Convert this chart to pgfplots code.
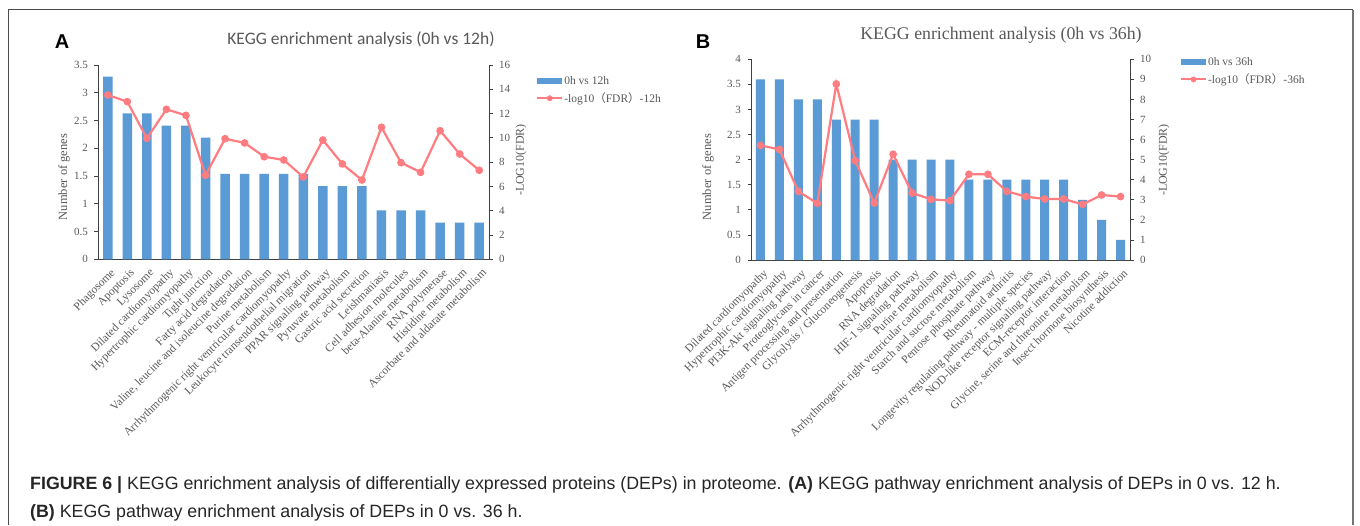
\documentclass[border=0pt]{standalone}
\usepackage{fontspec}
\usepackage{pgfplots}
\pgfplotsset{compat=1.18}
\setmainfont{Liberation Serif}
\setsansfont{Liberation Sans}
\newfontfamily\carlito{Carlito}
\newfontfamily\cjk{Noto Sans CJK SC}
\newfontfamily\capfont{Liberation Sans}
\definecolor{barblue}{HTML}{5B9BD5}
\definecolor{linered}{HTML}{FF7C80}
\definecolor{txtgray}{HTML}{595959}
\definecolor{axgray}{HTML}{404040}

\pgfplotstableread{
x barA lineA barB lineB
0 3.29 13.53 3.6 5.71
1 2.63 12.98 3.6 5.51
2 2.63 9.96 3.2 3.42
3 2.41 12.35 3.2 2.82
4 2.41 11.85 2.8 8.77
5 2.19 6.92 2.8 4.95
6 1.54 9.93 2.8 2.84
7 1.54 9.58 2.0 5.27
8 1.54 8.45 2.0 3.34
9 1.54 8.18 2.0 3.02
10 1.54 6.78 2.0 2.96
11 1.32 9.82 1.6 4.27
12 1.32 7.85 1.6 4.27
13 1.32 6.53 1.6 3.42
14 0.88 10.87 1.6 3.16
15 0.88 7.96 1.6 3.04
16 0.88 7.16 1.6 3.04
17 0.66 10.59 1.2 2.77
18 0.66 8.67 0.8 3.24
19 0.66 7.33 0.4 3.16
}\datatable

\pgfplotsset{
  common/.style={
    scale only axis,
    anchor=south west,
    xmin=-0.5, xmax=19.5,
    axis line style={axgray, line width=0.8pt, -},
    tick style={axgray, line width=0.8pt},
    major tick length=3.5pt,
    tick align=outside,
    ticklabel style={font=\fontsize{11}{13}\selectfont, text=txtgray},
    /pgf/number format/assume math mode=true,
    clip=false,
  },
  leftax/.style={
    common,
    axis x line*=bottom, axis y line*=left,
    xtick={0,...,19},
    x tick style={draw=none},
    yticklabel style={xshift=-3pt},
    xticklabel style={rotate=45, anchor=north east, inner sep=1pt, yshift=-4pt, xshift=-1pt, font=\fontsize{11.5}{13}\selectfont},
    legend cell align=left,
    legend style={draw=none, fill=none, inner sep=0pt, outer sep=0pt, anchor=north west,
      font=\fontsize{11.5}{13}\selectfont, text=txtgray, row sep=5pt,
      nodes={inner sep=1pt}},
  },
  rightax/.style={
    common,
    axis x line=none, axis y line*=right,
    xtick=\empty,
    yticklabel style={xshift=3pt},
  },
  barleg/.style={legend image code/.code={\fill[barblue] (0pt,-3.2pt) rectangle (25pt,3.2pt);}},
  lineleg/.style={legend image code/.code={\draw[linered,line width=2pt] (0pt,0pt) -- (25pt,0pt); \fill[linered] (12.5pt,0pt) circle (2.7pt);}},
}

\begin{document}
\begin{tikzpicture}
\useasboundingbox (0pt,0pt) rectangle (1360pt,525pt);
\fill[white] (0pt,0pt) rectangle (1360pt,525pt);
% frame
\draw[black!70, line width=1pt] (8pt,0pt) -- (8pt,515pt) -- (1353pt,515pt);
\draw[black!55, line width=2pt] (1353pt,515pt) -- (1353pt,0pt);

% ---------------- Panel A ----------------
\begin{axis}[leftax, at={(98pt,265.7pt)}, width=391pt, height=194.3pt,
  ymin=0, ymax=3.5, ytick={0,0.5,...,3.5},
  xticklabels={Phagosome, Apoptosis, Lysosome, Dilated cardiomyopathy, Hypertrophic cardiomyopathy, Tight junction, Fatty acid degradation, {Valine, leucine and isoleucine degradation}, Purine metabolism, Arrhythmogenic right ventricular cardiomyopathy, Leukocyte transendothelial migration, PPAR signaling pathway, Pyruvate metabolism, Gastric acid secretion, Leishmaniasis, Cell adhesion molecules, beta-Alanine metabolism, RNA polymerase, Histidine metabolism, Ascorbate and aldarate metabolism},
  legend style={at={(1.121,0.948)}},
]
\addplot[ybar, bar width=9.5pt, fill=barblue, draw=none, barleg] table[x=x, y=barA] {\datatable};
\addlegendentry{0h vs 12h}
\addlegendimage{lineleg}
\addlegendentry{-log10{\cjk （}FDR{\cjk ）}-12h}
\end{axis}
\begin{axis}[rightax, at={(98pt,265.7pt)}, width=391pt, height=194.3pt,
  ymin=0, ymax=16, ytick={0,2,...,16}]
\addplot[linered, line width=2.2pt, mark=*, mark size=2.7pt, mark options={fill=linered, draw=linered}] table[x=x, y=lineA] {\datatable};
\end{axis}

% ---------------- Panel B ----------------
\begin{axis}[leftax, at={(751pt,265pt)}, width=379pt, height=200.7pt,
  ymin=0, ymax=4, ytick={0,0.5,...,4},
  xticklabels={Dilated cardiomyopathy, Hypertrophic cardiomyopathy, PI3K-Akt signaling pathway, Proteoglycans in cancer, Antigen processing and presentation, Glycolysis / Gluconeogenesis, Apoptosis, RNA degradation, HIF-1 signaling pathway, Purine metabolism, Arrhythmogenic right ventricular cardiomyopathy, Starch and sucrose metabolism, Pentose phosphate pathway, Rheumatoid arthritis, Longevity regulating pathway - multiple species, NOD-like receptor signaling pathway, ECM-receptor interaction, {Glycine, serine and threonine metabolism}, Insect hormone biosynthesis, Nicotine addiction},
  legend style={at={(1.132,1.015)}},
]
\addplot[ybar, bar width=9pt, fill=barblue, draw=none, barleg] table[x=x, y=barB] {\datatable};
\addlegendentry{0h vs 36h}
\addlegendimage{lineleg}
\addlegendentry{-log10{\cjk （}FDR{\cjk ）}-36h}
\end{axis}
\begin{axis}[rightax, at={(751pt,265pt)}, width=379pt, height=200.7pt,
  ymin=0, ymax=10, ytick={0,1,...,10}]
\addplot[linered, line width=2.2pt, mark=*, mark size=2.7pt, mark options={fill=linered, draw=linered}] table[x=x, y=lineB] {\datatable};
\end{axis}

% titles and labels
\node[font=\carlito\fontsize{17.5}{20}\selectfont, text=txtgray] at (361pt,485pt) {KEGG enrichment analysis (0h vs 12h)};
\node[font=\fontsize{17.8}{20}\selectfont, text=txtgray] at (1001pt,490pt) {KEGG enrichment analysis (0h vs 36h)};
\node[font=\sffamily\bfseries\fontsize{20}{24}\selectfont] at (62pt,483pt) {A};
\node[font=\sffamily\bfseries\fontsize{20}{24}\selectfont] at (703pt,483pt) {B};
\node[rotate=90, font=\fontsize{12.5}{14}\selectfont, text=txtgray] at (64pt,348pt) {Number of genes};
\node[rotate=90, font=\fontsize{12.5}{14}\selectfont, text=txtgray] at (708pt,348pt) {Number of genes};
\node[rotate=90, font=\fontsize{12}{14}\selectfont, text=txtgray] at (521pt,365pt) {-LOG10(FDR)};
\node[rotate=90, font=\fontsize{12}{14}\selectfont, text=txtgray] at (1164pt,365pt) {-LOG10(FDR)};

% caption
\node[anchor=base west, inner sep=0pt, font=\capfont\fontsize{17.8}{20}\selectfont, text=black!85] at (30pt,36pt)
  {\textbf{FIGURE 6 |} KEGG enrichment analysis of differentially expressed proteins (DEPs) in proteome. \textbf{(A)} KEGG pathway enrichment analysis of DEPs in 0 vs. 12 h.};
\node[anchor=base west, inner sep=0pt, font=\capfont\fontsize{17.8}{20}\selectfont, text=black!85] at (30pt,8pt)
  {\textbf{(B)} KEGG pathway enrichment analysis of DEPs in 0 vs. 36 h.};
\end{tikzpicture}
\end{document}
